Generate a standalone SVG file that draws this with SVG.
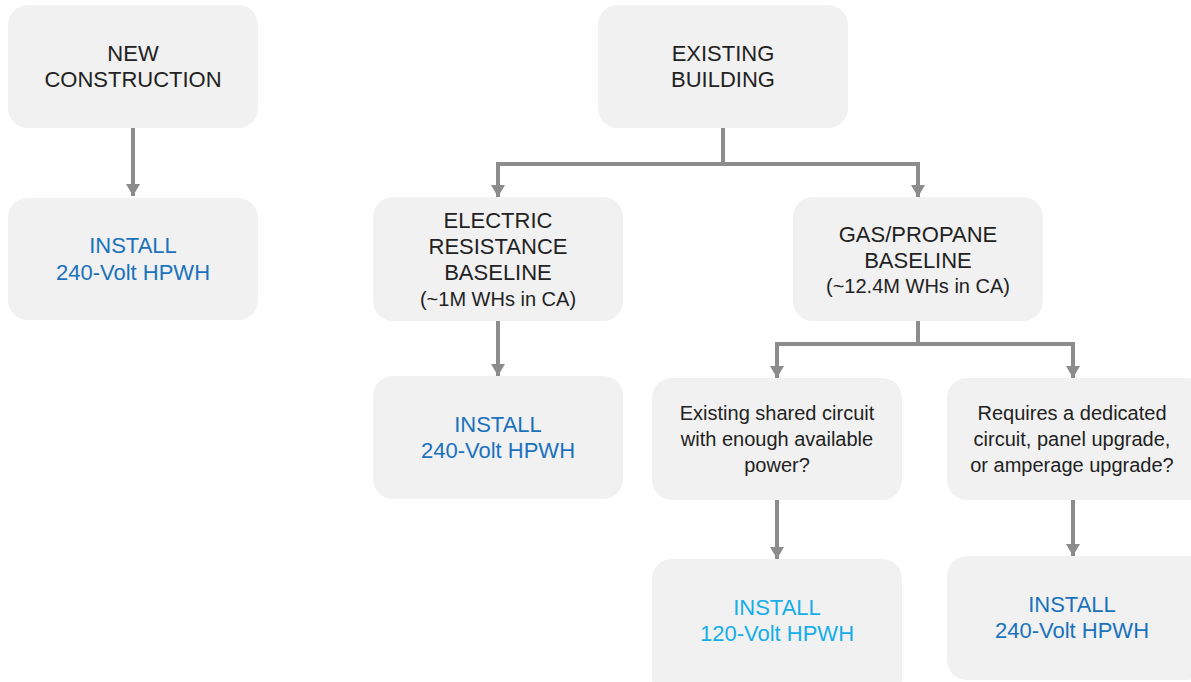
<svg xmlns="http://www.w3.org/2000/svg" width="1191" height="682" viewBox="0 0 1191 682">
<style>
.box{fill:#f1f1f1}
.t{font-family:"Liberation Sans",Arial,sans-serif;font-size:22px;fill:#222;text-anchor:middle}
.s{font-family:"Liberation Sans",Arial,sans-serif;font-size:20px;fill:#222;text-anchor:middle}
.b{fill:#1a72bd}
.lb{fill:#14aee8}
.c{fill:none;stroke:#8c8c8c;stroke-width:4}
</style>
<defs>
<marker id="ah" viewBox="0 0 12 14" refX="12" refY="7" markerWidth="12" markerHeight="14" markerUnits="userSpaceOnUse" orient="auto">
<path d="M0,0 L12,7 L0,14 Z" fill="#8c8c8c"/>
</marker>
</defs>
<rect width="1191" height="682" fill="#fff"/>
<g id="connectors">
<path class="c" d="M133,128 V196" marker-end="url(#ah)"/>
<path class="c" d="M723,128 V164 H498 V197" marker-end="url(#ah)"/>
<path class="c" d="M723,164 H918 V197" marker-end="url(#ah)"/>
<path class="c" d="M498,320 V376" marker-end="url(#ah)"/>
<path class="c" d="M918,320 V344 H777 V378" marker-end="url(#ah)"/>
<path class="c" d="M918,344 H1073 V378" marker-end="url(#ah)"/>
<path class="c" d="M777,500 V559" marker-end="url(#ah)"/>
<path class="c" d="M1073,500 V556" marker-end="url(#ah)"/>
</g>
<g id="n_new">
<rect class="box" x="8" y="5" width="250" height="123" rx="20"/>
<text class="t" x="133" y="61">NEW</text>
<text class="t" x="133" y="87">CONSTRUCTION</text>
</g>
<g id="n_install1">
<rect class="box" x="8" y="198" width="250" height="122" rx="20"/>
<text class="t b" x="133" y="253">INSTALL</text>
<text class="t b" x="133" y="280">240-Volt HPWH</text>
</g>
<g id="n_existing">
<rect class="box" x="598" y="5" width="250" height="123" rx="20"/>
<text class="t" x="723" y="61">EXISTING</text>
<text class="t" x="723" y="87">BUILDING</text>
</g>
<g id="n_electric">
<rect class="box" x="373" y="197" width="250" height="124" rx="20"/>
<text class="t" x="498" y="228">ELECTRIC</text>
<text class="t" x="498" y="254">RESISTANCE</text>
<text class="t" x="498" y="280">BASELINE</text>
<text class="s" x="498" y="306">(~1M WHs in CA)</text>
</g>
<g id="n_gas">
<rect class="box" x="793" y="197" width="250" height="124" rx="20"/>
<text class="t" x="918" y="242">GAS/PROPANE</text>
<text class="t" x="918" y="268">BASELINE</text>
<text class="s" x="918" y="293">(~12.4M WHs in CA)</text>
</g>
<g id="n_install2">
<rect class="box" x="373" y="376" width="250" height="123" rx="20"/>
<text class="t b" x="498" y="432">INSTALL</text>
<text class="t b" x="498" y="458">240-Volt HPWH</text>
</g>
<g id="n_shared">
<rect class="box" x="652" y="378" width="250" height="122" rx="20"/>
<text class="s" x="777" y="420">Existing shared circuit</text>
<text class="s" x="777" y="446">with enough available</text>
<text class="s" x="777" y="472">power?</text>
</g>
<g id="n_requires">
<rect class="box" x="947" y="378" width="260" height="122" rx="20"/>
<text class="s" x="1072" y="420">Requires a dedicated</text>
<text class="s" x="1072" y="446">circuit, panel upgrade,</text>
<text class="s" x="1072" y="472">or amperage upgrade?</text>
</g>
<g id="n_install120">
<rect class="box" x="652" y="559" width="250" height="140" rx="20"/>
<text class="t lb" x="777" y="615">INSTALL</text>
<text class="t lb" x="777" y="641">120-Volt HPWH</text>
</g>
<g id="n_install3">
<rect class="box" x="947" y="556" width="260" height="124" rx="20"/>
<text class="t b" x="1072" y="612">INSTALL</text>
<text class="t b" x="1072" y="638">240-Volt HPWH</text>
</g>
</svg>
